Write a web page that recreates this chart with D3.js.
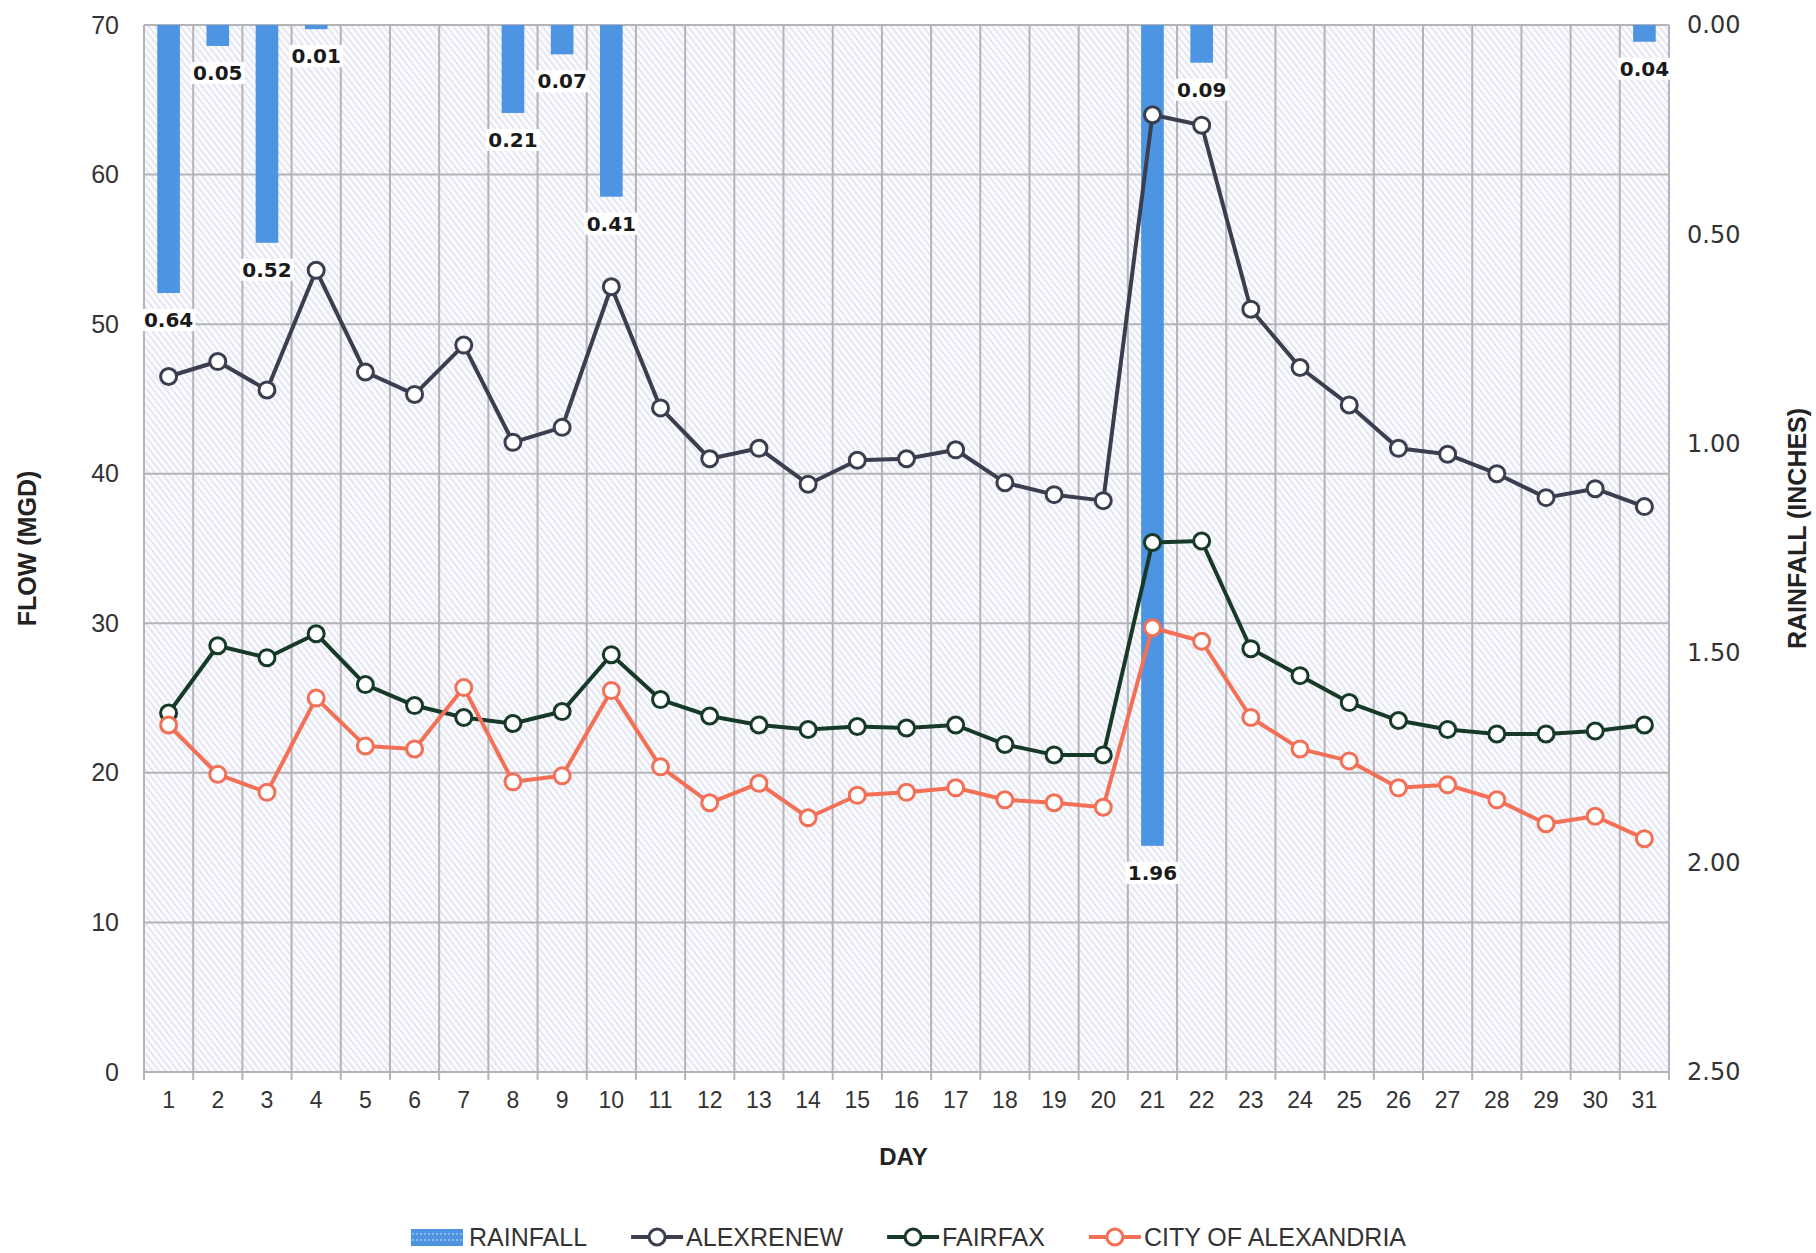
<!DOCTYPE html>
<html>
<head>
<meta charset="utf-8">
<script src="https://cdn.jsdelivr.net/npm/d3@7/dist/d3.min.js"></script>
<style>
  body { margin: 0; background: #fff; }
</style>
</head>
<body>
<div id="chart"></div>
<script>
  // data
  var days = [1, 2, 3, 4, 5, 6, 7, 8, 9, 10, 11, 12, 13, 14, 15, 16,
              17, 18, 19, 20, 21, 22, 23, 24, 25, 26, 27, 28, 29, 30, 31];

  var rainfall = [0.64, 0.05, 0.52, 0.01, 0, 0, 0, 0.21, 0.07, 0.41, 0, 0, 0, 0, 0, 0,
                  0, 0, 0, 0, 1.96, 0.09, 0, 0, 0, 0, 0, 0, 0, 0, 0.04];

  var alexrenew = [46.5, 47.5, 45.6, 53.6, 46.8, 45.3, 48.6, 42.1, 43.1, 52.5, 44.4, 41.0,
                   41.7, 39.3, 40.9, 41.0, 41.6, 39.4, 38.6, 38.2, 64.0, 63.3, 51.0, 47.1,
                   44.6, 41.7, 41.3, 40.0, 38.4, 39.0, 37.8];

  var fairfax = [24.0, 28.5, 27.7, 29.3, 25.9, 24.5, 23.7, 23.3, 24.1, 27.9, 24.9, 23.8,
                 23.2, 22.9, 23.1, 23.0, 23.2, 21.9, 21.2, 21.2, 35.4, 35.5, 28.3, 26.5,
                 24.7, 23.5, 22.9, 22.6, 22.6, 22.8, 23.2];

  var alexandria = [23.2, 19.9, 18.7, 25.0, 21.8, 21.6, 25.7, 19.4, 19.8, 25.5, 20.4, 18.0,
                    19.3, 17.0, 18.5, 18.7, 19.0, 18.2, 18.0, 17.7, 29.7, 28.8, 23.7, 21.6,
                    20.8, 19.0, 19.2, 18.2, 16.6, 17.1, 15.6];

  var flowTicks = [0, 10, 20, 30, 40, 50, 60, 70];
  var rainTicks = [0, 0.5, 1.0, 1.5, 2.0, 2.5];

  var seriesNames = ['ALEXRENEW', 'FAIRFAX', 'CITY OF ALEXANDRIA'];
  var seriesColors = ['#3b3e4e', '#173a28', '#f36f55'];
  var rainColor = '#4d94e3';

  var W = 1816, H = 1253;
  var plotL = 144, plotR = 1669, plotT = 25, plotB = 1072;

  var svg = d3.select('#chart').append('svg')
      .attr('width', W)
      .attr('height', H)
      .style('font-family', '"Liberation Sans", Arial, sans-serif');

  // faint diagonal hatching of the scanned plot area
  var defs = svg.append('defs');
  var hatch = defs.append('pattern')
      .attr('id', 'hatch')
      .attr('patternUnits', 'userSpaceOnUse')
      .attr('width', 5)
      .attr('height', 5)
      .attr('patternTransform', 'rotate(-38)');
  hatch.append('rect').attr('width', 5).attr('height', 5).attr('fill', '#fcfcfd');
  hatch.append('line')
      .attr('x1', 1).attr('y1', 0).attr('x2', 1).attr('y2', 5)
      .attr('stroke', '#d2d4ef')
      .attr('stroke-width', 1.1);

  var x = d3.scaleBand().domain(days).range([plotL, plotR]);
  var yFlow = d3.scaleLinear().domain([0, 70]).range([plotB, plotT]);
  var yRain = d3.scaleLinear().domain([0, 2.5]).range([plotT, plotB]);

  svg.append('rect')
      .attr('x', plotL).attr('y', plotT)
      .attr('width', plotR - plotL).attr('height', plotB - plotT)
      .attr('fill', 'url(#hatch)');

  // grid
  var grid = svg.append('g').attr('stroke', '#b4b4b8').attr('stroke-width', 2);
  grid.selectAll('line.h').data(flowTicks)
    .enter().append('line')
      .attr('x1', plotL).attr('x2', plotR)
      .attr('y1', function(d) { return yFlow(d); })
      .attr('y2', function(d) { return yFlow(d); });
  grid.selectAll('line.v').data(days.concat(['end']))
    .enter().append('line')
      .attr('x1', function(d) { return d === 'end' ? plotR : x(d); })
      .attr('x2', function(d) { return d === 'end' ? plotR : x(d); })
      .attr('y1', plotT)
      .attr('y2', plotB + 8);

  // rainfall bars hanging from the top
  var rainData = days.map(function(d, i) { return { day: d, value: rainfall[i] }; })
      .filter(function(d) { return d.value > 0; });
  var barW = x.bandwidth() * 0.46;

  svg.append('g').selectAll('rect').data(rainData)
    .enter().append('rect')
      .attr('x', function(d) { return x(d.day) + (x.bandwidth() - barW) / 2; })
      .attr('y', yRain(0))
      .attr('width', barW)
      .attr('height', function(d) { return yRain(d.value) - yRain(0); })
      .attr('fill', rainColor);

  // flow lines
  var allSeries = [alexrenew, fairfax, alexandria];
  var line = d3.line()
      .x(function(d, i) { return x(days[i]) + x.bandwidth() / 2; })
      .y(function(d) { return yFlow(d); });

  allSeries.forEach(function(values, s) {
    var g = svg.append('g');
    g.append('path')
        .attr('d', line(values))
        .attr('fill', 'none')
        .attr('stroke', seriesColors[s])
        .attr('stroke-width', 4)
        .attr('stroke-linejoin', 'round');
    g.selectAll('circle').data(values)
      .enter().append('circle')
        .attr('cx', function(d, i) { return x(days[i]) + x.bandwidth() / 2; })
        .attr('cy', function(d) { return yFlow(d); })
        .attr('r', 8)
        .attr('fill', '#fff')
        .attr('stroke', seriesColors[s])
        .attr('stroke-width', 3);
  });

  // rainfall value labels
  var fmt = d3.format('.2f');
  var labels = svg.append('g')
      .style('font-family', '"DejaVu Sans", Verdana, sans-serif')
      .style('font-weight', 'bold')
      .style('font-size', '20px');
  var lab = labels.selectAll('g').data(rainData)
    .enter().append('g')
      .attr('transform', function(d) {
        return 'translate(' + (x(d.day) + x.bandwidth() / 2) + ',' + (yRain(d.value) + 34) + ')';
      });
  lab.append('rect')
      .attr('x', -27).attr('y', -18)
      .attr('width', 54).attr('height', 22)
      .attr('fill', '#fff');
  lab.append('text')
      .attr('text-anchor', 'middle')
      .attr('fill', '#1a1a1a')
      .text(function(d) { return fmt(d.value); });

  // left axis
  var leftAxis = svg.append('g')
      .attr('transform', 'translate(' + plotL + ',0)')
      .call(d3.axisLeft(yFlow).tickValues(flowTicks).tickSize(0).tickPadding(25));
  leftAxis.select('.domain').remove();
  leftAxis.selectAll('text')
      .style('font-family', '"Liberation Sans", Arial, sans-serif')
      .style('font-size', '25px')
      .attr('fill', '#333');

  // right axis
  var rightAxis = svg.append('g')
      .attr('transform', 'translate(' + plotR + ',0)')
      .call(d3.axisRight(yRain).tickValues(rainTicks).tickSize(0).tickPadding(18)
        .tickFormat(d3.format('.2f')));
  rightAxis.select('.domain').remove();
  rightAxis.selectAll('text')
      .style('font-family', '"DejaVu Sans", Verdana, sans-serif')
      .style('font-size', '24px')
      .attr('fill', '#333');

  // bottom axis
  var bottomAxis = svg.append('g')
      .attr('transform', 'translate(0,' + plotB + ')')
      .call(d3.axisBottom(x).tickSize(0).tickPadding(20));
  bottomAxis.select('.domain').remove();
  bottomAxis.selectAll('text')
      .style('font-family', '"Liberation Sans", Arial, sans-serif')
      .style('font-size', '23px')
      .attr('fill', '#333');

  // axis titles
  svg.append('text')
      .attr('transform', 'translate(36,' + ((plotT + plotB) / 2) + ') rotate(-90)')
      .attr('text-anchor', 'middle')
      .style('font-size', '25px')
      .style('font-weight', 'bold')
      .attr('fill', '#222')
      .text('FLOW (MGD)');

  svg.append('text')
      .attr('transform', 'translate(1806,' + ((plotT + plotB) / 2 - 20) + ') rotate(-90)')
      .attr('text-anchor', 'middle')
      .style('font-size', '25px')
      .style('font-weight', 'bold')
      .attr('fill', '#222')
      .text('RAINFALL (INCHES)');

  svg.append('text')
      .attr('x', (plotL + plotR) / 2 - 3)
      .attr('y', 1165)
      .attr('text-anchor', 'middle')
      .style('font-size', '24px')
      .style('font-weight', 'bold')
      .attr('fill', '#222')
      .text('DAY');

  // legend
  var legend = svg.append('g')
      .attr('transform', 'translate(411,1237)')
      .style('font-size', '25px');
  var lx = 0;

  var sw = legend.append('g');
  sw.append('rect')
      .attr('x', 0).attr('y', -8).attr('width', 52).attr('height', 17)
      .attr('fill', rainColor);
  sw.selectAll('line').data([-3, 3])
    .enter().append('line')
      .attr('x1', 1).attr('x2', 51)
      .attr('y1', function(d) { return d; }).attr('y2', function(d) { return d; })
      .attr('stroke', '#cfe2f8')
      .attr('stroke-width', 1.2)
      .attr('stroke-dasharray', '2 2');
  var t0 = legend.append('text')
      .attr('x', 58).attr('y', 9)
      .attr('fill', '#333')
      .text('RAINFALL');
  lx = 58 + t0.node().getComputedTextLength() + 44;

  seriesNames.forEach(function(name, s) {
    var g = legend.append('g').attr('transform', 'translate(' + lx + ',0)');
    g.append('line')
        .attr('x1', 0).attr('x2', 52).attr('y1', 0).attr('y2', 0)
        .attr('stroke', seriesColors[s])
        .attr('stroke-width', 4);
    g.append('circle')
        .attr('cx', 26).attr('cy', 0).attr('r', 8)
        .attr('fill', '#fff')
        .attr('stroke', seriesColors[s])
        .attr('stroke-width', 3);
    var t = g.append('text')
        .attr('x', 55).attr('y', 9)
        .attr('fill', '#333')
        .text(name);
    lx += 55 + t.node().getComputedTextLength() + 44;
  });
</script>
</body>
</html>
